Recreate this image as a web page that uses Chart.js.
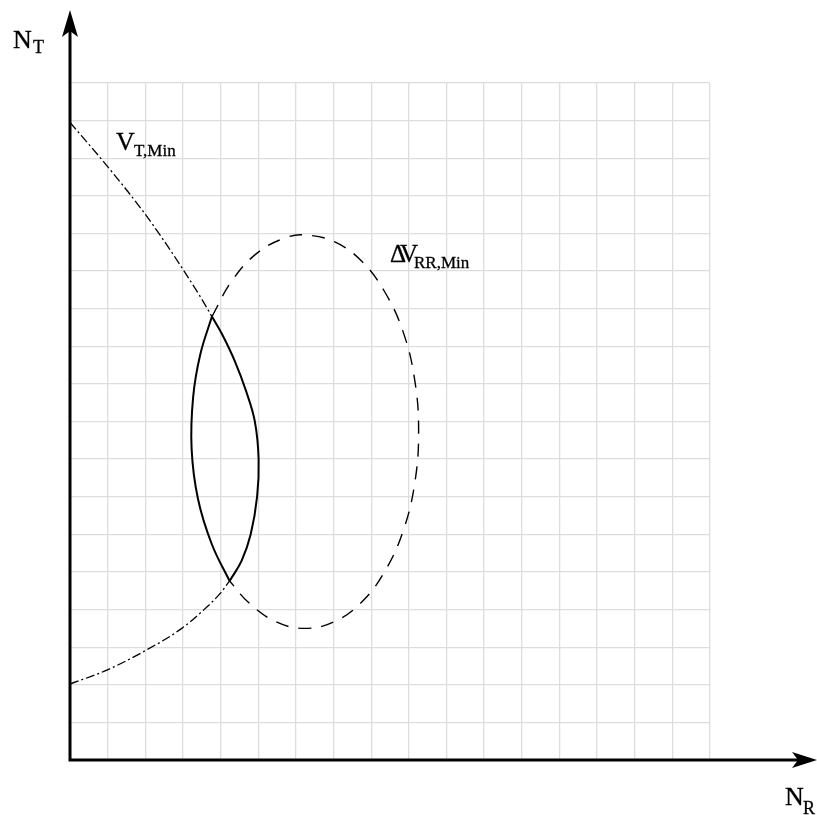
<!DOCTYPE html>
<html>
<head>
<meta charset="utf-8">
<script src="https://cdn.jsdelivr.net/npm/chart.js@4"></script>
<style>
  body { margin: 0; background: #fff; }
</style>
</head>
<body>
<canvas id="myChart" width="817" height="815"></canvas>
<script>
// Curva V_T,Min (rama superior, tramo sólido de la lente, rama inferior)
const vtTopX = [0, 0.89, 1.91, 2.48, 3.01, 3.46, 3.77];
const vtTopY = [16.95, 15.91, 14.63, 13.83, 13.03, 12.32, 11.79];
const vtLensX = [3.77, 4.05, 4.38, 4.68, 4.91, 5.01, 4.97, 4.80, 4.56, 4.24];
const vtLensY = [11.79, 11.30, 10.60, 9.80, 9.00, 8.00, 7.00, 6.00, 5.30, 4.76];
const vtBottomX = [0, 0.98, 1.95, 2.97, 3.55, 3.99, 4.24];
const vtBottomY = [2.02, 2.39, 2.88, 3.50, 3.99, 4.43, 4.76];

// Curva ΔV_RR,Min (arco discontinuo y tramo sólido de la lente)
const dvArcX = [3.77, 4.30, 4.96, 5.71, 6.24, 7.02, 7.75, 8.37, 8.86, 9.16, 9.26, 9.16, 8.86, 8.37, 7.75, 7.02, 6.24, 5.46, 4.73, 4.24];
const dvArcY = [11.79, 12.74, 13.47, 13.88, 13.96, 13.78, 13.26, 12.43, 11.35, 10.08, 8.73, 7.38, 6.12, 5.03, 4.20, 3.68, 3.50, 3.68, 4.20, 4.76];
const dvLensX = [4.24, 3.77, 3.40, 3.23, 3.27, 3.46, 3.77];
const dvLensY = [4.76, 5.73, 6.94, 8.28, 9.64, 10.78, 11.79];

// Textos de los ejes y curvas
const labelMain = ['N', 'V', 'ΔV', 'N'];
const labelSub = ['T', 'T,Min', 'RR,Min', 'R'];

const pts = (xs, ys) => xs.map((x, i) => ({ x: x, y: ys[i] }));

const dashDot = [9, 3, 2, 3];
const dashed = [13, 10];

const line = (data, dash, width, mode) => ({
  data: data,
  showLine: true,
  borderColor: '#000',
  borderWidth: width,
  borderDash: dash,
  pointRadius: 0,
  tension: 0.4,
  cubicInterpolationMode: mode || 'default',
  fill: false
});

// Ejes con flecha y etiquetas
const axesAndLabels = {
  id: 'axesAndLabels',
  afterDatasetsDraw(chart) {
    const ctx = chart.ctx;
    const a = chart.chartArea;
    ctx.save();
    ctx.strokeStyle = '#000';
    ctx.fillStyle = '#000';
    ctx.lineWidth = 3;
    ctx.beginPath();
    ctx.moveTo(a.left, a.bottom);
    ctx.lineTo(a.left, 30);
    ctx.moveTo(a.left - 1.5, a.bottom);
    ctx.lineTo(800, a.bottom);
    ctx.stroke();

    // punta eje vertical
    ctx.beginPath();
    ctx.moveTo(a.left, 10);
    ctx.lineTo(a.left + 8, 37);
    ctx.lineTo(a.left, 31);
    ctx.lineTo(a.left - 8, 37);
    ctx.closePath();
    ctx.fill();
    // punta eje horizontal
    ctx.beginPath();
    ctx.moveTo(817, a.bottom);
    ctx.lineTo(792, a.bottom + 8);
    ctx.lineTo(798, a.bottom);
    ctx.lineTo(792, a.bottom - 8);
    ctx.closePath();
    ctx.fill();

    const font = '"Liberation Serif", "Times New Roman", serif';
    const spots = [
      { x: 13, y: 48, size: 26, sx: 33, sy: 53, ssize: 18, ls: 0 },
      { x: 116, y: 150, size: 26, sx: 134, sy: 156, ssize: 17, ls: 0 },
      { x: 390, y: 262, size: 25, sx: 414, sy: 268, ssize: 17, ls: -6 },
      { x: 785, y: 805, size: 26, sx: 803, sy: 814, ssize: 18, ls: 0 }
    ];
    ctx.textBaseline = 'alphabetic';
    ctx.textAlign = 'left';
    ctx.lineWidth = 0.3;
    spots.forEach((s, i) => {
      ctx.letterSpacing = s.ls + 'px';
      ctx.font = s.size + 'px ' + font;
      ctx.fillText(labelMain[i], s.x, s.y);
      ctx.strokeText(labelMain[i], s.x, s.y);
      ctx.letterSpacing = '0px';
      ctx.font = s.ssize + 'px ' + font;
      ctx.fillText(labelSub[i], s.sx, s.sy);
      ctx.strokeText(labelSub[i], s.sx, s.sy);
    });
    ctx.restore();
  }
};

const ctx = document.getElementById('myChart');

new Chart(ctx, {
  type: 'scatter',
  data: {
    datasets: [
      line(pts(vtTopX, vtTopY), dashDot, 1.3, 'monotone'),
      line(pts(vtLensX, vtLensY), [], 2),
      line(pts(vtBottomX, vtBottomY), dashDot, 1.3, 'monotone'),
      line(pts(dvArcX, dvArcY), dashed, 1.4),
      line(pts(dvLensX, dvLensY), [], 2)
    ]
  },
  options: {
    responsive: false,
    animation: false,
    layout: { padding: { left: 70, right: 107, top: 83, bottom: 55 } },
    plugins: {
      legend: { display: false },
      tooltip: { enabled: false }
    },
    scales: {
      x: {
        type: 'linear',
        min: 0,
        max: 17,
        ticks: { display: false, stepSize: 1 },
        grid: { color: '#dddddd', lineWidth: 1.3, drawTicks: false },
        border: { display: false }
      },
      y: {
        type: 'linear',
        min: 0,
        max: 18,
        ticks: { display: false, stepSize: 1 },
        grid: { color: '#dddddd', lineWidth: 1.3, drawTicks: false },
        border: { display: false }
      }
    }
  },
  plugins: [axesAndLabels]
});
</script>
</body>
</html>
